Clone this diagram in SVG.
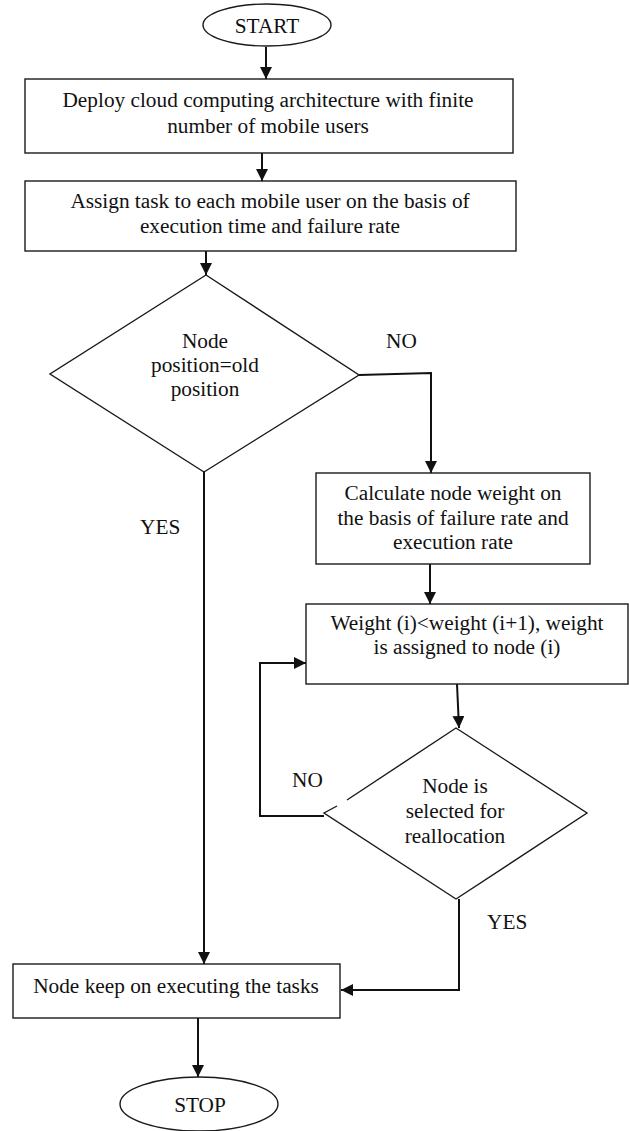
<svg xmlns="http://www.w3.org/2000/svg" width="629" height="1131" viewBox="0 0 629 1131">
<style>
.s{fill:#fff;stroke:#1a1a1a;stroke-width:1.4}
.t{font-family:'Liberation Serif',Tinos,'DejaVu Serif',serif;font-size:21.3px;fill:#111;text-anchor:middle}
.l{font-family:'Liberation Serif',Tinos,'DejaVu Serif',serif;font-size:21.3px;fill:#111}
.c{fill:none;stroke:#111;stroke-width:2}
</style>
<defs>
<marker id="ah" markerUnits="userSpaceOnUse" markerWidth="12" markerHeight="12" refX="12" refY="6" orient="auto">
<path d="M0,0 L12,6 L0,12 z" fill="#111"/>
</marker>
</defs>
<rect width="629" height="1131" fill="#fff"/>
<g id="connectors">
<line class="c" x1="266" y1="47" x2="266" y2="79" marker-end="url(#ah)"/>
<line class="c" x1="262" y1="153" x2="262" y2="181" marker-end="url(#ah)"/>
<line class="c" x1="206" y1="251" x2="206" y2="275" marker-end="url(#ah)"/>
<polyline class="c" points="359,375 431,373 431,473" marker-end="url(#ah)"/>
<line class="c" x1="204" y1="472" x2="204" y2="964" marker-end="url(#ah)"/>
<line class="c" x1="430" y1="564" x2="430" y2="604" marker-end="url(#ah)"/>
<line class="c" x1="457" y1="684" x2="459" y2="728" marker-end="url(#ah)"/>
<polyline class="c" points="324,816 260,816 260,663 306,663" marker-end="url(#ah)"/>
<polyline class="c" points="459,899 459,990 341,990" marker-end="url(#ah)"/>
<line class="c" x1="198" y1="1018" x2="198" y2="1077" marker-end="url(#ah)"/>
<text class="l" x="386" y="348">NO</text>
<text class="l" x="140" y="534">YES</text>
<text class="l" x="292" y="787">NO</text>
<text class="l" x="487" y="929">YES</text>
</g>
<g id="start">
<ellipse class="s" cx="267" cy="25" rx="64" ry="21"/>
<text class="t" x="267" y="33">START</text>
</g>
<g id="deploy">
<rect class="s" x="25" y="79" width="488" height="74"/>
<text class="t" x="268" y="107">Deploy cloud computing architecture with finite</text>
<text class="t" x="268" y="133">number of mobile users</text>
</g>
<g id="assign">
<rect class="s" x="25" y="181" width="491" height="70"/>
<text class="t" x="270" y="208">Assign task to each mobile user on the basis of</text>
<text class="t" x="270" y="233">execution time and failure rate</text>
</g>
<g id="decision1">
<polygon class="s" points="206,275 359,375 204,472 50,374"/>
<text class="t" x="205" y="348">Node</text>
<text class="t" x="205" y="372">position=old</text>
<text class="t" x="205" y="396">position</text>
</g>
<g id="calculate">
<rect class="s" x="316" y="473" width="274" height="91"/>
<text class="t" x="453" y="500">Calculate node weight on</text>
<text class="t" x="453" y="525">the basis of failure rate and</text>
<text class="t" x="453" y="549">execution rate</text>
</g>
<g id="weight">
<rect class="s" x="306" y="604" width="322" height="80"/>
<text class="t" x="467" y="630">Weight (i)&lt;weight (i+1), weight</text>
<text class="t" x="467" y="654">is assigned to node (i)</text>
</g>
<g id="decision2">
<path class="s" d="M347,800 L456,728 L587,813 L456,899 L324,813 L337,806"/>
<text class="t" x="455" y="793">Node is</text>
<text class="t" x="455" y="818">selected for</text>
<text class="t" x="455" y="843">reallocation</text>
</g>
<g id="keep">
<rect class="s" x="13" y="964" width="327" height="54"/>
<text class="t" x="176" y="993">Node keep on executing the tasks</text>
</g>
<g id="stop">
<ellipse class="s" cx="199" cy="1104" rx="79" ry="27"/>
<text class="t" x="200" y="1112">STOP</text>
</g>
</svg>
